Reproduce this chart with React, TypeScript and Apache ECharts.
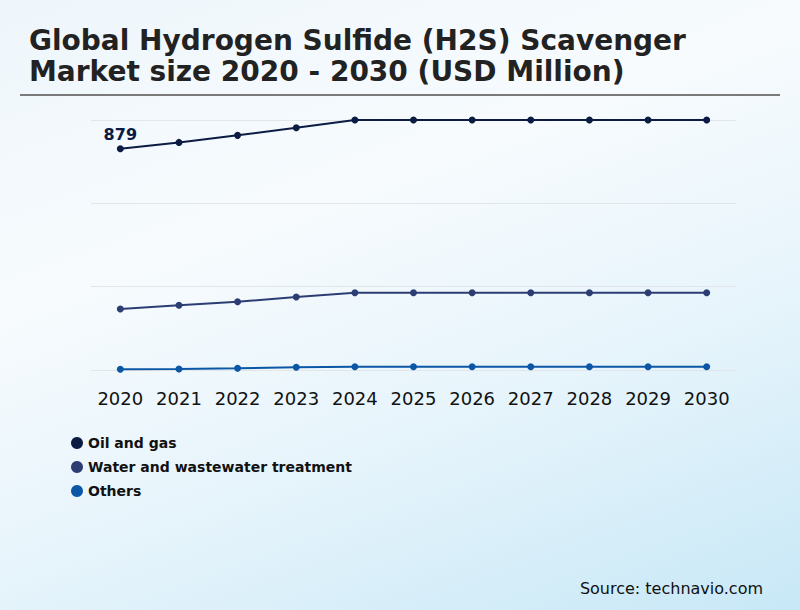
import { useEffect, useRef } from 'react';
import * as echarts from 'echarts';

const years = ['2020', '2021', '2022', '2023', '2024', '2025', '2026', '2027', '2028', '2029', '2030'];
const oilAndGas = [879, 904, 932, 962, 993, 993, 993, 993, 993, 993, 993];
const waterTreatment = [242, 257, 271, 290, 307, 307, 307, 307, 307, 307, 307];
const others = [3, 4, 7, 11, 13, 13, 13, 13, 13, 13, 13];

const seriesNames = ['Oil and gas', 'Water and wastewater treatment', 'Others'];
const seriesColors = ['#0b1b42', '#2c3d74', '#0b57a6'];

const FONT = 'DejaVu Sans';

export default function App() {
  const chartRef = useRef<HTMLDivElement>(null);

  useEffect(() => {
    if (!chartRef.current) return;
    document.body.style.margin = '0';
    const chart = echarts.init(chartRef.current, null, { renderer: 'svg' });

    const lineSeries = [oilAndGas, waterTreatment, others].map((values, i) => ({
      name: seriesNames[i],
      type: 'line',
      data: values,
      symbol: 'circle',
      symbolSize: 7,
      clip: false,
      lineStyle: { color: seriesColors[i], width: 2 },
      itemStyle: { color: seriesColors[i] },
      label: {
        show: true,
        position: 'top',
        distance: 3,
        fontFamily: FONT,
        fontSize: 16,
        fontWeight: 'bold',
        color: '#0a1a44',
        formatter: (p: any) => (i === 0 && p.dataIndex === 0 ? String(p.value) : ''),
      },
    }));

    chart.setOption({
      animation: false,
      title: {
        text: 'Global Hydrogen Sulfide (H2S) Scavenger\nMarket size 2020 - 2030 (USD Million)',
        left: 24,
        top: 20,
        textStyle: {
          fontFamily: FONT,
          fontSize: 28,
          fontWeight: 'bold',
          color: '#222222',
          lineHeight: 31,
        },
      },
      graphic: [
        {
          type: 'line',
          shape: { x1: 20, y1: 95, x2: 780, y2: 95 },
          style: { stroke: '#7a7a7a', lineWidth: 2 },
        },
        {
          type: 'text',
          right: 37,
          top: 580,
          style: {
            text: 'Source: technavio.com',
            fontFamily: FONT,
            fontSize: 16,
            fill: '#111111',
          },
        },
      ],
      legend: {
        orient: 'vertical',
        left: 66,
        top: 431,
        itemGap: 10,
        itemWidth: 12,
        itemHeight: 12,
        icon: 'circle',
        data: seriesNames,
        textStyle: {
          fontFamily: FONT,
          fontSize: 14,
          fontWeight: 'bold',
          color: '#111111',
        },
      },
      grid: { left: 91, right: 64, top: 120, bottom: 240 },
      xAxis: {
        type: 'category',
        data: years,
        boundaryGap: true,
        axisLine: { show: false },
        axisTick: { show: false },
        axisLabel: {
          interval: 0,
          margin: 19,
          fontFamily: FONT,
          fontSize: 18,
          color: '#111111',
        },
      },
      yAxis: {
        type: 'value',
        min: 0,
        max: 993,
        interval: 331,
        axisLabel: { show: false },
        axisLine: { show: false },
        axisTick: { show: false },
        splitLine: { lineStyle: { color: '#e3e6e9', width: 1 } },
      },
      series: lineSeries,
    });

    return () => {
      chart.dispose();
    };
  }, []);

  return (
    <div
      ref={chartRef}
      style={{
        position: 'fixed',
        left: 0,
        top: 0,
        width: 800,
        height: 610,
        background: 'linear-gradient(160deg, #eef6fb 0%, #f7fbfe 35%, #e6f4fb 65%, #c8e8f7 100%)',
      }}
    />
  );
}
